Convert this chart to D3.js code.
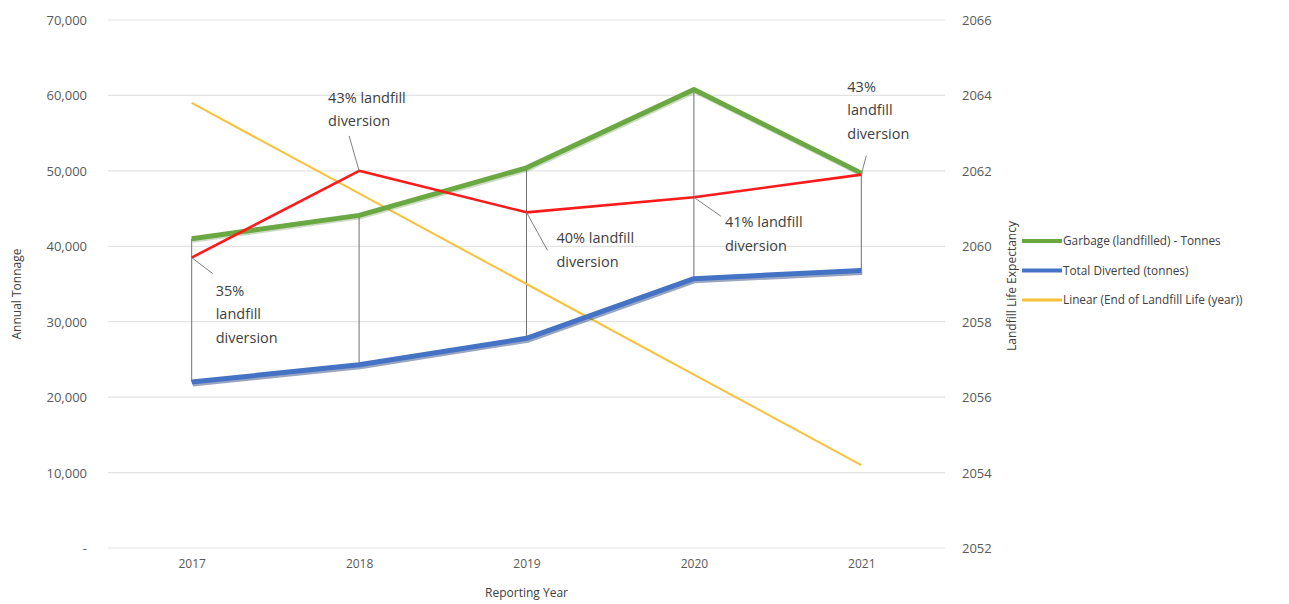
<!DOCTYPE html>
<html>
<head>
<meta charset="utf-8">
<script src="https://cdn.jsdelivr.net/npm/d3@7"></script>
<style>
  html, body { margin: 0; padding: 0; background: #fff; }
  svg { display: block; }
  text { font-family: "Open Sans", "Liberation Sans", sans-serif; }
</style>
</head>
<body>
<svg id="chart" width="1289" height="604"></svg>
<script>
// ---- data ----
const years = ["2017", "2018", "2019", "2020", "2021"];
const garbageTonnes = [41000, 44100, 50400, 60800, 49700];
const divertedTonnes = [22000, 24300, 27800, 35700, 36800];
const landfillLifeYear = [2059.7, 2062.0, 2060.9, 2061.3, 2061.9];
const linearLifeTrend = [2063.8, 2061.4, 2059.0, 2056.6, 2054.2];
const diversionLabels = [
  ["35%", "landfill", "diversion"],
  ["43% landfill", "diversion"],
  ["40% landfill", "diversion"],
  ["41% landfill", "diversion"],
  ["43%", "landfill", "diversion"]
];
const leftTicks = [0, 10000, 20000, 30000, 40000, 50000, 60000, 70000];
const rightTicks = [2052, 2054, 2056, 2058, 2060, 2062, 2064, 2066];
const legendNames = ["Garbage (landfilled) - Tonnes", "Total Diverted (tonnes)", "Linear (End of Landfill Life (year))"];

// ---- layout ----
const svg = d3.select("#chart");
const plot = { left: 108, right: 945, top: 20, bottom: 548 };

const x = d3.scalePoint().domain(years).range([plot.left, plot.right]).padding(0.5);
const yL = d3.scaleLinear().domain([0, 70000]).range([plot.bottom, plot.top]);
const yR = d3.scaleLinear().domain([2052, 2066]).range([plot.bottom, plot.top]);

const colors = { green: "#6aa842", blue: "#4472c4", red: "#ff1a1a", yellow: "#f7c23a" };

// gridlines
svg.append("g").selectAll("line").data(leftTicks).join("line")
  .attr("x1", plot.left).attr("x2", plot.right)
  .attr("y1", d => yL(d)).attr("y2", d => yL(d))
  .attr("stroke", "#e3e3e3").attr("stroke-width", 1.2);

// left axis
const fmt = d => d === 0 ? "-" : d3.format(",")(d);
const leftAxis = d3.axisLeft(yL).tickValues(leftTicks).tickFormat(fmt).tickSize(0).tickPadding(21);
const gL = svg.append("g").attr("transform", `translate(${plot.left},0)`).call(leftAxis);
gL.select(".domain").remove();
gL.selectAll("text").attr("fill", "#595959").style("font-size", "13px").attr("dy", "0.35em");

// right axis
const rightAxis = d3.axisRight(yR).tickValues(rightTicks).tickFormat(d3.format("d")).tickSize(0).tickPadding(17);
const gR = svg.append("g").attr("transform", `translate(${plot.right},0)`).call(rightAxis);
gR.select(".domain").remove();
gR.selectAll("text").attr("fill", "#595959").style("font-size", "13px").attr("dy", "0.35em");

// bottom axis
const bottomAxis = d3.axisBottom(x).tickSize(0).tickPadding(16);
const gB = svg.append("g").attr("transform", `translate(0,${plot.bottom})`).call(bottomAxis);
gB.select(".domain").remove();
gB.selectAll("text").attr("fill", "#595959").style("font-size", "12px").attr("dy", "0.35em");

// axis titles
svg.append("text").attr("transform", `translate(21,${(plot.top + plot.bottom) / 2 + 10}) rotate(-90)`)
  .attr("text-anchor", "middle").attr("fill", "#404040").style("font-size", "12px").text("Annual Tonnage");
svg.append("text").attr("transform", `translate(1016,${(plot.top + plot.bottom) / 2 + 2}) rotate(-90)`)
  .attr("text-anchor", "middle").attr("fill", "#404040").style("font-size", "12px").text("Landfill Life Expectancy");
svg.append("text").attr("x", (plot.left + plot.right) / 2).attr("y", 597)
  .attr("text-anchor", "middle").attr("fill", "#404040").style("font-size", "12px").text("Reporting Year");

// high-low drop lines
svg.append("g").selectAll("line").data(years).join("line")
  .attr("x1", d => x(d)).attr("x2", d => x(d))
  .attr("y1", (d, i) => yL(garbageTonnes[i])).attr("y2", (d, i) => yL(divertedTonnes[i]))
  .attr("stroke", "#6f6f6f").attr("stroke-width", 1);

const lineL = vals => d3.line().x((d, i) => x(years[i])).y(d => yL(d))(vals);
const lineR = vals => d3.line().x((d, i) => x(years[i])).y(d => yR(d))(vals);

// yellow linear trend
svg.append("path").attr("d", lineR(linearLifeTrend)).attr("fill", "none")
  .attr("stroke", colors.yellow).attr("stroke-width", 2);

// green garbage (with shadow)
svg.append("path").attr("d", lineL(garbageTonnes)).attr("fill", "none")
  .attr("stroke", "#3e6e24").attr("stroke-opacity", 0.25).attr("stroke-width", 5)
  .attr("transform", "translate(1,1.5)").attr("stroke-linejoin", "round");
svg.append("path").attr("d", lineL(garbageTonnes)).attr("fill", "none")
  .attr("stroke", colors.green).attr("stroke-width", 5).attr("stroke-linejoin", "round");

// blue diverted (with shadow)
svg.append("path").attr("d", lineL(divertedTonnes)).attr("fill", "none")
  .attr("stroke", "#1f3a70").attr("stroke-opacity", 0.45).attr("stroke-width", 5)
  .attr("transform", "translate(1,2)").attr("stroke-linejoin", "round");
svg.append("path").attr("d", lineL(divertedTonnes)).attr("fill", "none")
  .attr("stroke", colors.blue).attr("stroke-width", 5).attr("stroke-linejoin", "round");

// red landfill life
svg.append("path").attr("d", lineR(landfillLifeYear)).attr("fill", "none")
  .attr("stroke", colors.red).attr("stroke-width", 2.6).attr("stroke-linejoin", "round");

// annotations: leader offsets & text offsets relative to the red point
const annot = [
  { lx: 21, ly: 16, tx: 24, ty: 33 },
  { lx: -10, ly: -35, tx: -31, ty: -73 },
  { lx: 21, ly: 38, tx: 30, ty: 26 },
  { lx: 27, ly: 19, tx: 31, ty: 25 },
  { lx: 5, ly: -19, tx: -14, ty: -88 }
];
const gA = svg.append("g");
years.forEach((yr, i) => {
  const px = x(yr), py = yR(landfillLifeYear[i]), a = annot[i];
  gA.append("line").attr("x1", px).attr("y1", py).attr("x2", px + a.lx).attr("y2", py + a.ly)
    .attr("stroke", "#7f7f7f").attr("stroke-width", 1);
  const t = gA.append("text").attr("x", px + a.tx).attr("y", py + a.ty)
    .attr("fill", "#404040").style("font-size", "14.5px");
  diversionLabels[i].forEach((ln, j) => {
    t.append("tspan").attr("x", px + a.tx).attr("dy", j === 0 ? "0.35em" : "1.62em").text(ln);
  });
});

// legend
const legColors = [colors.green, colors.blue, colors.yellow];
const lg = svg.append("g");
legendNames.forEach((n, i) => {
  const ly = 241 + i * 29.5;
  lg.append("line").attr("x1", 1022).attr("x2", 1062).attr("y1", ly).attr("y2", ly)
    .attr("stroke", legColors[i]).attr("stroke-width", i < 2 ? 4 : 3);
  lg.append("text").attr("x", 1063).attr("y", ly).attr("dy", "0.35em")
    .attr("fill", "#404040").style("font-size", "11.8px").text(n);
});
</script>
</body>
</html>
